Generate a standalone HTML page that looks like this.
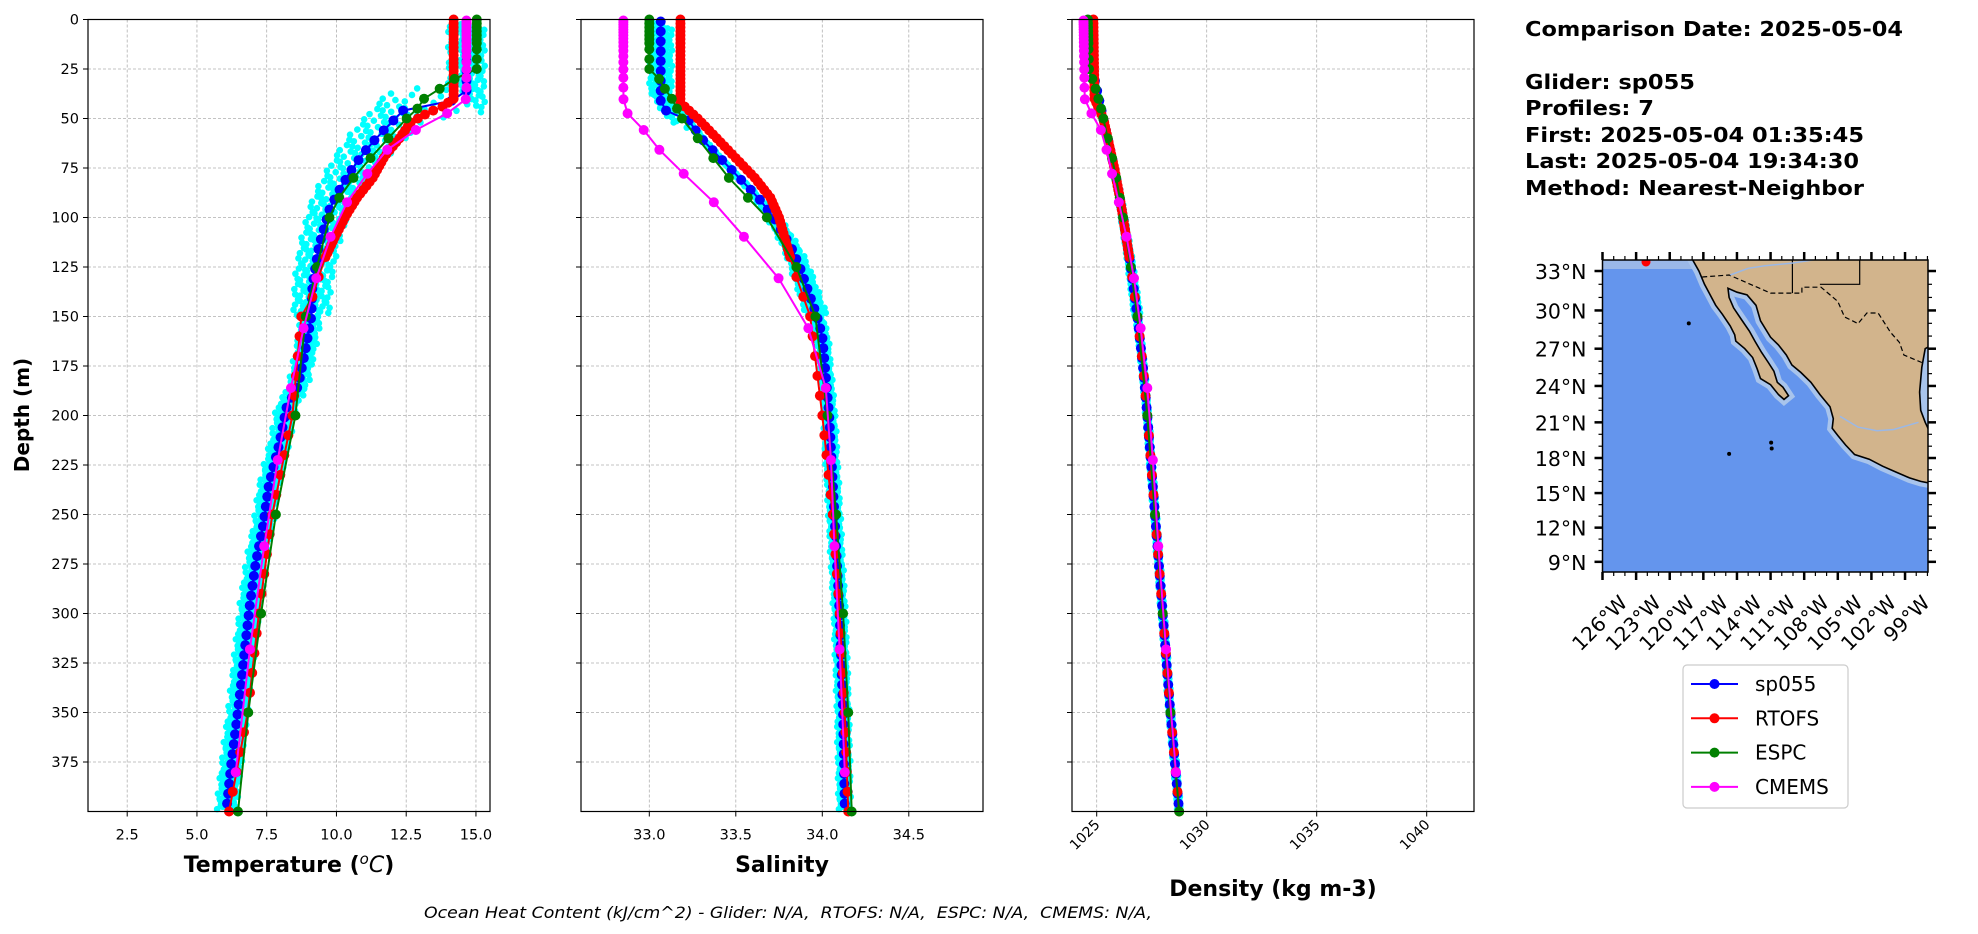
<!DOCTYPE html>
<html><head><meta charset="utf-8"><style>
html,body{margin:0;padding:0;background:#fff;}
svg{display:block;font-family:"DejaVu Sans","Liberation Sans",sans-serif;}
</style></head><body>
<svg id="s" width="1978" height="934" viewBox="0 0 1978 934" xmlns="http://www.w3.org/2000/svg">
<rect width="1978" height="934" fill="#fff"/>
<g id="g"></g>
<text x="1525" y="36" font-size="20" font-weight="bold" textLength="378" lengthAdjust="spacingAndGlyphs">Comparison Date: 2025-05-04</text>
<text x="1525" y="89" font-size="20" font-weight="bold" textLength="170" lengthAdjust="spacingAndGlyphs">Glider: sp055</text>
<text x="1525" y="115" font-size="20" font-weight="bold" textLength="129" lengthAdjust="spacingAndGlyphs">Profiles: 7</text>
<text x="1525" y="142" font-size="20" font-weight="bold" textLength="339" lengthAdjust="spacingAndGlyphs">First: 2025-05-04 01:35:45</text>
<text x="1525" y="168" font-size="20" font-weight="bold" textLength="334" lengthAdjust="spacingAndGlyphs">Last: 2025-05-04 19:34:30</text>
<text x="1525" y="195" font-size="20" font-weight="bold" textLength="339" lengthAdjust="spacingAndGlyphs">Method: Nearest-Neighbor</text>
<text x="424" y="918" font-size="16" font-style="italic" xml:space="preserve" textLength="728" lengthAdjust="spacingAndGlyphs">Ocean Heat Content (kJ/cm^2) - Glider: N/A,  RTOFS: N/A,  ESPC: N/A,  CMEMS: N/A,</text>
<text x="289" y="872" font-size="22" font-weight="bold" text-anchor="middle">Temperature (<tspan font-size="15" dy="-8" font-weight="normal" font-style="italic">o</tspan><tspan dy="8" font-style="italic" font-weight="normal">C</tspan>)</text>
<text x="782" y="872" font-size="22" font-weight="bold" text-anchor="middle">Salinity</text>
<text x="1273" y="896" font-size="22" font-weight="bold" text-anchor="middle">Density (kg m-3)</text>
<text transform="translate(29,415) rotate(-90)" font-size="20" font-weight="bold" text-anchor="middle">Depth (m)</text>
</svg>
<script>
var NS="http://www.w3.org/2000/svg",G=document.getElementById('g');
function el(t,a,p){var e=document.createElementNS(NS,t);for(var k in a)e.setAttribute(k,a[k]);(p||G).appendChild(e);return e;}
function tx(x,y,s,a){var e=el('text',Object.assign({x:x,y:y},a||{}));e.textContent=s;return e;}
function interp(A,z){if(z<=A[0][0])return A[0][1];for(var i=1;i<A.length;i++){if(z<=A[i][0]){var t=(z-A[i-1][0])/(A[i][0]-A[i-1][0]);return A[i-1][1]+t*(A[i][1]-A[i-1][1]);}}return A[A.length-1][1];}
var TOP=19.5,BOT=811.5;function Y(z){return TOP+z*1.98;}
var panels=[
 {L:88,R:490,X:function(v){return 127.2+(v-2.5)*27.9;},ticks:[2.5,5,7.5,10,12.5,15],fmt:function(v){return v.toFixed(1)},rot:false},
 {L:581,R:983,X:function(v){return 649.3+(v-33)*173;},ticks:[33,33.5,34,34.5],fmt:function(v){return v.toFixed(1)},rot:false},
 {L:1072,R:1474,X:function(v){return 1096.7+(v-1025)*22;},ticks:[1025,1030,1035,1040],fmt:function(v){return ''+v},rot:true}
];
var T={
 g:[[0,14.66],[40,14.66],[44,12.53],[54,11.83],[64,11.16],[75,10.58],[85,10.15],[95,9.77],[114,9.38],[134,9.14],[150,9.1],[166,8.9],[185,8.63],[196,8.21],[215,7.94],[235,7.58],[255,7.38],[275,7.1],[295,6.9],[315,6.74],[336,6.58],[355,6.42],[376,6.23],[400,6.05]],
 r:[[0,14.2],[40,14.2],[44,13.8],[47,13.3],[52,12.66],[60,12.26],[69,11.73],[80,11.3],[90,10.74],[99,10.34],[110,9.94],[122,9.54],[140,9.14],[150,8.74],[200,8.42],[250,7.7],[300,7.22],[350,6.82],[400,6.15]],
 e:[[0,15.03],[25,15.03],[29,14.34],[35,13.7],[40,13.14],[45,12.9],[49,12.58],[60,11.86],[70,11.22],[80,10.61],[90,10.1],[100,9.75],[125,9.3],[150,8.9],[200,8.53],[250,7.83],[300,7.3],[350,6.84],[400,6.47]],
 m:[[0,14.66],[40,14.66],[47,14.02],[56,12.82],[66,11.8],[78,11.1],[92,10.39],[110,9.78],[131,9.27],[156,8.82],[186,8.37],[222,7.9],[266,7.41],[318,6.9],[380,6.39],[400,6.25]]};
var S={
 g:[[0,33.066],[45,33.066],[50,33.22],[60,33.3],[70,33.41],[80,33.52],[90,33.63],[100,33.72],[115,33.82],[125,33.87],[140,33.93],[150,33.97],[160,34.0],[200,34.04],[250,34.07],[300,34.1],[350,34.12],[400,34.13]],
 r:[[0,33.18],[42,33.18],[50,33.28],[60,33.39],[70,33.5],[80,33.61],[90,33.7],[100,33.75],[125,33.83],[150,33.93],[200,34.0],[250,34.06],[300,34.1],[350,34.13],[400,34.15]],
 e:[[0,33.0],[25,33.0],[29,33.05],[35,33.09],[40,33.13],[45,33.16],[49,33.18],[60,33.28],[70,33.37],[80,33.46],[90,33.57],[100,33.68],[125,33.85],[150,33.96],[200,34.03],[250,34.08],[300,34.12],[350,34.15],[400,34.17]],
 m:[[0,32.85],[40,32.85],[47,32.87],[56,32.97],[66,33.06],[78,33.2],[92,33.37],[110,33.55],[131,33.75],[156,33.92],[186,34.02],[222,34.05],[266,34.07],[318,34.1],[380,34.13],[400,34.14]]};
var Db=[[0,1024.65],[25,1024.8],[35,1025.0],[45,1025.2],[55,1025.4],[65,1025.6],[75,1025.8],[90,1026.05],[100,1026.2],[125,1026.55],[150,1026.85],[175,1027.1],[200,1027.3],[250,1027.65],[300,1028.0],[350,1028.35],[400,1028.75]];
var D={g:Db,r:[[0,1024.85],[40,1024.9],[50,1025.3]].concat(Db.slice(5)),e:[[0,1024.6],[25,1024.65],[35,1024.95]].concat(Db.slice(3)),
 m:[[0,1024.4],[40,1024.45],[47,1024.74],[56,1025.2],[66,1025.45],[78,1025.7],[92,1026.0],[110,1026.36],[131,1026.7],[156,1027.0],[186,1027.3],[222,1027.55],[266,1027.8],[318,1028.15],[380,1028.6],[400,1028.75]]};
var lv={g:[],r:[],e:[0,2,4,6,8,10,12,15,20,25,30,35,40,45,50,60,70,80,90,100,125,150,200,250,300,350,400],
 m:[0.5,1.5,2.6,3.8,5.1,6.4,7.9,9.6,11.4,13.5,15.8,18.5,21.6,25.2,29.4,34.4,40.3,47.4,55.8,65.8,77.9,92.3,109.7,130.7,155.9,186.1,222.5,266,318.1,380.2]};
for(var z=1;z<=399;z+=5)lv.g.push(z);
for(var z=0;z<=120;z+=2)lv.r.push(z);for(var z=130;z<=400;z+=10)lv.r.push(z);
var cols={g:'#0000ff',r:'#ff0000',e:'#008000',m:'#ff00ff'};
var datas=[T,S,D];
panels.forEach(function(p,i){
 var cg=el('g',{});
 for(var z=0;z<400;z+=25){el('line',{x1:p.L,x2:p.R,y1:Y(z),y2:Y(z),stroke:'#b0b0b0','stroke-width':0.8,'stroke-dasharray':'3,2'},cg);
  el('line',{x1:p.L-5,x2:p.L,y1:Y(z),y2:Y(z),stroke:'#000','stroke-width':1},cg);
  if(i==0)tx(p.L-9,Y(z)+5,''+z,{'font-size':14.5,'text-anchor':'end'});}
 p.ticks.forEach(function(v){var x=p.X(v);el('line',{x1:x,x2:x,y1:TOP,y2:BOT,stroke:'#b0b0b0','stroke-width':0.8,'stroke-dasharray':'3,2'},cg);
  el('line',{x1:x,x2:x,y1:BOT,y2:BOT+5,stroke:'#000'},cg);
  if(p.rot){tx(0,0,p.fmt(v),{'font-size':14,'text-anchor':'end',transform:'translate('+(x+4)+','+(BOT+14)+') rotate(-45)'});}
  else tx(x,BOT+28,p.fmt(v),{'font-size':14.5,'text-anchor':'middle'});});
 var dat=datas[i],cl=el('clipPath',{id:'c'+i});el('rect',{x:p.L,y:TOP-6,width:p.R-p.L,height:BOT-TOP+12},cl);
 var dg=el('g',{'clip-path':'url(#c'+i+')'});
 for(var q=0;q<7;q++){var sh=(q-3)*3.2,off=(q-3)*(i==0?0.12:(i==1?0.012:0.03));
  for(var z=1+q*0.7;z<=399;z+=2.6){var zz=Math.max(0,z-sh*Math.max(0,1-z/160));
   var v=interp(dat.g,zz)+off*(z<150?1.6:0.8)+Math.sin(z*1.7+q)*(i==0?0.08:(i==1?0.008:0.02));
   el('circle',{cx:p.X(v),cy:Y(z),r:3.3,fill:'#00ffff'},dg);}}
 ['g','r','e','m'].forEach(function(k){var pts=lv[k].map(function(z){return [p.X(interp(dat[k],z)),Y(z)];});
  el('polyline',{points:pts.map(function(a){return a[0].toFixed(1)+','+a[1].toFixed(1)}).join(' '),fill:'none',stroke:cols[k],'stroke-width':2},dg);
  pts.forEach(function(a){el('circle',{cx:a[0],cy:a[1],r:5,fill:cols[k]},dg);});});
 el('rect',{x:p.L,y:TOP,width:p.R-p.L,height:BOT-TOP,fill:'none',stroke:'#000','stroke-width':1.2});
});
function MX(lon){return 1602.5+(lon+126)*11.205;}
function MY(lat){var r=lat*Math.PI/180;return 663.1-642*Math.log(Math.tan(Math.PI/4+r/2));}
function P(a){return a.map(function(b){return MX(b[0]).toFixed(1)+','+MY(b[1]).toFixed(1)}).join(' ');}
var mL=1602.5,mR=1928,mT=260,mB=572;
var mc=el('clipPath',{id:'mc'});el('rect',{x:mL,y:mT,width:mR-mL,height:mB-mT},mc);
var mg=el('g',{'clip-path':'url(#mc)'});
el('rect',{x:mL,y:mT,width:mR-mL,height:mB-mT,fill:'#6495ed'},mg);
el('rect',{x:mL,y:mT,width:100,height:9,fill:'#9ab8e8'},mg);
var land=[[-118.3,35],[-118.0,33.9],[-117.4,33.0],[-116.9,32.0],[-116.4,31.2],[-115.9,30.4],[-115.3,29.7],[-114.6,28.8],[-114.2,28.1],[-114.1,27.6],[-113.3,27.0],[-112.6,26.3],[-112.2,25.4],[-111.9,24.6],[-111.0,24.1],[-110.3,23.3],[-109.8,22.9],[-109.4,23.2],[-109.9,23.9],[-110.4,24.3],[-110.7,25.2],[-111.2,25.9],[-111.8,26.7],[-112.4,27.6],[-112.9,28.4],[-113.6,29.3],[-114.3,30.2],[-114.7,31.0],[-114.8,31.7],[-114.0,31.4],[-113.1,31.2],[-112.3,30.4],[-111.9,29.2],[-111.0,27.9],[-110.3,27.3],[-109.6,26.5],[-109.1,25.7],[-108.3,25.1],[-107.4,24.3],[-106.6,23.3],[-105.7,22.3],[-105.4,21.3],[-105.5,20.5],[-105.0,19.9],[-104.3,19.1],[-103.5,18.3],[-102.2,17.9],[-101.0,17.3],[-99.8,16.8],[-98.6,16.3],[-97.6,16.0],[-96.5,15.8],[-96,15.8],[-96,34.5]];
el('polygon',{points:P(land),fill:'#a8c4ec',stroke:'#a8c4ec','stroke-width':10},mg);
el('polygon',{points:P(land),fill:'#d2b48c',stroke:'#000','stroke-width':1.6},mg);
var gm=[[-96,27.6],[-97.2,27.0],[-97.5,25.5],[-97.7,23.5],[-97.6,22.0],[-97.2,21.0],[-96.8,20.2],[-96,19.5]];
el('polygon',{points:P(gm),fill:'#a8c4ec',stroke:'#000','stroke-width':1.6},mg);
var bd=[[-117.1,32.55],[-114.7,32.7],[-111,31.33],[-108.2,31.33],[-108.2,31.78],[-106.5,31.78],[-105,30.7],[-104.4,29.5],[-103.2,28.98],[-102.4,29.8],[-101.4,29.8],[-100.3,28.3],[-99.5,27.5],[-99.1,26.5],[-97.5,25.9]];
el('polyline',{points:P(bd),fill:'none',stroke:'#000','stroke-width':1.2,'stroke-dasharray':'5,3'},mg);
el('polyline',{points:P([[-109.05,35],[-109.05,31.33]]),fill:'none',stroke:'#000','stroke-width':1.2},mg);
el('polyline',{points:P([[-103.05,35],[-103.05,32.0],[-106.6,32.0]]),fill:'none',stroke:'#000','stroke-width':1.2},mg);
el('polyline',{points:P([[-114.6,32.7],[-113,33.2],[-111.5,33.4],[-109,33.6],[-106.6,33.9]]),fill:'none',stroke:'#9bb8e6','stroke-width':1.5},mg);
el('polyline',{points:P([[-104.8,21.5],[-103.2,20.6],[-101.5,20.3],[-100,20.4],[-97.8,21.0]]),fill:'none',stroke:'#9bb8e6','stroke-width':1.5},mg);
[[-118.3,29.0],[-110.9,18.8],[-110.95,19.3],[-114.7,18.35]].forEach(function(a){el('circle',{cx:MX(a[0]),cy:MY(a[1]),r:2,fill:'#000'},mg);});
el('circle',{cx:1646,cy:262,r:4.5,fill:'#ff0000'},mg);
el('rect',{x:mL,y:mT,width:mR-mL,height:mB-mT,fill:'none',stroke:'#000','stroke-width':1.5});
for(var lat=9;lat<=33;lat++){var y=MY(lat),mj=(lat%3==0);
 el('line',{x1:mL-(mj?8:4),x2:mL,y1:y,y2:y,stroke:'#000','stroke-width':mj?2.5:1.2});
 el('line',{x1:mR,x2:mR+(mj?8:4),y1:y,y2:y,stroke:'#000','stroke-width':mj?2.5:1.2});
 if(mj)tx(mL-16,y+8,lat+'°N',{'font-size':20.5,'text-anchor':'end'});}
for(var lon=-126;lon<=-97;lon++){var x=MX(lon),mj=((lon+126)%3==0);
 el('line',{x1:x,x2:x,y1:mB,y2:mB+(mj?8:4),stroke:'#000','stroke-width':mj?2.5:1.2});
 el('line',{x1:x,x2:x,y1:mT-(mj?8:4),y2:mT,stroke:'#000','stroke-width':mj?2.5:1.2});
 if(mj)tx(0,0,(-lon)+'°W',{'font-size':20,'text-anchor':'end',transform:'translate('+(x+26)+','+(mB+32)+') rotate(-45)'});}
el('rect',{x:1683,y:665,width:165,height:143,rx:4,fill:'#fff',stroke:'#cccccc','stroke-width':1.2});
[['sp055','#0000ff'],['RTOFS','#ff0000'],['ESPC','#008000'],['CMEMS','#ff00ff']].forEach(function(a,i){var y=684+i*34.3;
 el('line',{x1:1691,x2:1738,y1:y,y2:y,stroke:a[1],'stroke-width':2});el('circle',{cx:1714.5,cy:y,r:5,fill:a[1]});
 tx(1755,y+7,a[0],{'font-size':20});});
</script>
</body></html>
